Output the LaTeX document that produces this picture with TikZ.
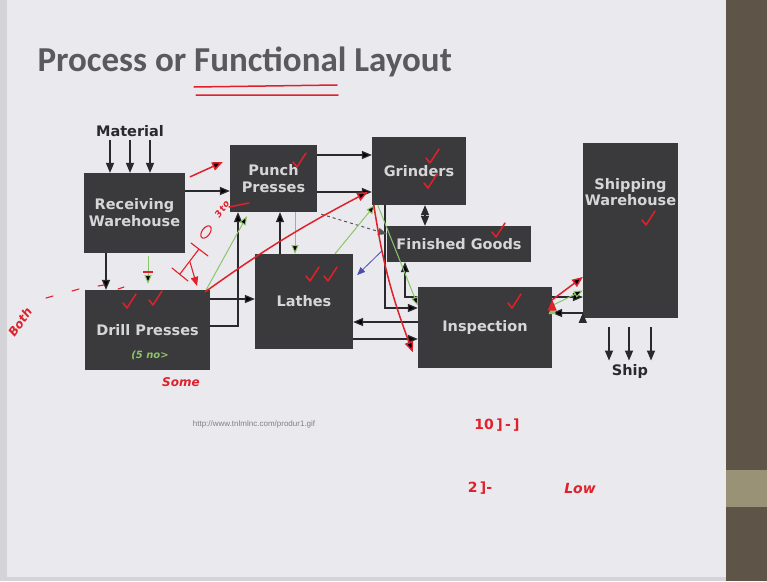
\documentclass[tikz,border=0pt]{standalone}
\usepackage{fontspec}
\setmainfont{DejaVu Sans}
\newfontfamily\titlefont{Carlito}
\newfontfamily\urlfont{Liberation Sans}
\usetikzlibrary{positioning, arrows}
\definecolor{slidebg}{HTML}{EAEAEE}
\definecolor{edgegray}{HTML}{D4D4D8}
\definecolor{wallbrown}{HTML}{5E5447}
\definecolor{wallband}{HTML}{9A9277}
\definecolor{boxgray}{HTML}{3A3A3C}
\definecolor{boxtext}{HTML}{D6D6D8}
\definecolor{linegray}{HTML}{2A2A2E}
\definecolor{titlegray}{HTML}{5A5A5C}
\definecolor{inkred}{HTML}{E0202A}
\definecolor{inkgreen}{HTML}{8CC468}
\tikzset{
    x=1pt, y=-1pt, % pixel grid of the slide, y runs down
    dept/.style={rectangle, fill=boxgray, text=boxtext, align=center,
        inner sep=0pt, font=\bfseries\fontsize{14.5}{17}\selectfont},
    flow/.style={-triangle 45, draw=linegray, line width=1.3pt},
    elbow/.style={to path={-| (\tikztotarget)}},
    elbowv/.style={to path={|- (\tikztotarget)}},
    ink/.style={draw=inkred, line width=1.5pt, line cap=round, line join=round},
    greenink/.style={draw=inkgreen, line width=1pt},
    hand/.style={text=inkred, font=\itshape\bfseries\fontsize{12}{13}\selectfont, inner sep=1pt},
}

\begin{document}
\begin{tikzpicture}
            \useasboundingbox (0,0) rectangle (767,581);
            \fill[edgegray] (0,0) rectangle (767,581);
            \fill[slidebg] (7,0) rectangle (726,577);
            \fill[wallbrown] (726,0) rectangle (767,581);
            \fill[wallband] (726,470) rectangle (767,507);

            \node[anchor=west, text=titlegray, font=\titlefont\bfseries\fontsize{35}{38}\selectfont] (TITLE) at (34,62) {Process or Functional Layout};

            \node[dept, minimum width=101, minimum height=80] (RECV) at (134.5,213) {Receiving\\Warehouse};
            \node[dept, minimum width=87, minimum height=67] (PUNCH) at (273.5,178.5) {Punch\\Presses};
            \node[dept, minimum width=94, minimum height=68] (GRIND) at (419,171) {Grinders};
            \node[dept, minimum width=144, minimum height=36] (FINISH) at (459,244) {Finished Goods};
            \node[dept, minimum width=98, minimum height=95] (LATHES) at (304,301.5) {Lathes};
            \node[dept, minimum width=125, minimum height=80] (DRILL) at (147.5,330) {Drill Presses};
            \node[dept, minimum width=134, minimum height=81] (INSP) at (485,327.5) {Inspection};
            \node[dept, minimum width=95, minimum height=175,
                label={[anchor=north, yshift=-32pt, text=boxtext, font=\bfseries\fontsize{14.5}{16}\selectfont, align=center]north:Shipping\\Warehouse}] (SHIPW) at (630.5,230.5) {};

            \node[text=linegray, font=\bfseries\fontsize{14.5}{16}\selectfont] (MAT) at (130,131) {Material};
            \node[text=linegray, font=\bfseries\fontsize{14.5}{16}\selectfont] (SHIPTXT) at (630,371) {Ship};
            \node[text=gray, font=\urlfont\fontsize{8}{9}\selectfont] (URL) at (254,424) {http://www.tnlmlnc.com/produr1.gif};

            \foreach \dx in {-20,0,20}
                \draw[flow] ([xshift=\dx pt]MAT.south) -- ([xshift=\dx pt]MAT.south |- RECV.north);
            \foreach \dx in {-21.5,-1.5,20.5}
                \draw[flow] ([xshift=\dx pt, yshift=-9pt]SHIPW.south) -- ([xshift=\dx pt]SHIPW.south |- SHIPTXT.north);

            \path[flow]
            ([yshift=22pt]RECV.east) edge ([yshift=-12.5pt]PUNCH.west)
            ([xshift=-28.5pt]RECV.south) edge ([xshift=-28.5pt]RECV.south |- DRILL.north)
            ([yshift=23.5pt]PUNCH.east) edge ([yshift=23.5pt]PUNCH.east -| GRIND.west)
            ([yshift=-13.5pt]PUNCH.east) edge ([yshift=-13.5pt]PUNCH.east -| GRIND.west)
            ([xshift=-24pt]LATHES.north) edge ([xshift=-24pt]LATHES.north |- PUNCH.south)
            ([yshift=4pt]DRILL.east) edge[elbow] ([xshift=-35.5pt]PUNCH.south)
            ([yshift=31pt]DRILL.east) edge ([yshift=31pt]DRILL.east -| LATHES.west)
            ([yshift=30.5pt]INSP.west) edge[elbow] ([xshift=-54pt]FINISH.south)
            ([xshift=-34pt]GRIND.south) edge[elbowv] ([yshift=19.5pt]INSP.west)
            ([yshift=5.5pt]INSP.west) edge ([yshift=5.5pt]INSP.west -| LATHES.east)
            ([yshift=-37.5pt]LATHES.east) edge ([yshift=-37.5pt]LATHES.east -| INSP.west)
            ([yshift=30.5pt]INSP.east) edge ([yshift=30.5pt]INSP.east -| SHIPW.west)
            ([yshift=-82.5pt]SHIPW.west) edge ([yshift=-82.5pt]SHIPW.west -| INSP.east);

            \draw[triangle 45-triangle 45, draw=linegray, line width=1.3pt] ([xshift=6pt]GRIND.south) -- ([xshift=6pt]GRIND.south |- FINISH.north);
            \draw[-triangle 45, dashed, draw=linegray!80, line width=1pt] ([xshift=4pt, yshift=-2pt]PUNCH.south east) -- ([yshift=10pt]FINISH.west);
            \draw[-triangle 45, draw=blue!40!gray, line width=0.8pt] ([xshift=-5pt, yshift=-7pt]FINISH.west) -- ([xshift=4pt, yshift=26.5pt]LATHES.east);

            % green marks
            \path[greenink, -triangle 45]
            ([xshift=21.5pt]PUNCH.south) edge ([xshift=21.5pt]PUNCH.south |- LATHES.north)
            ([xshift=-4pt]DRILL.north east) edge ([xshift=17pt, yshift=-4pt]PUNCH.south west)
            ([xshift=31pt]LATHES.north) edge ([xshift=3pt]GRIND.south west)
            ([xshift=13.5pt, yshift=-3pt]RECV.south) edge ([xshift=13.5pt, yshift=6pt]RECV.south |- DRILL.north)
            ([xshift=6pt]GRIND.south west) edge ([yshift=22pt]INSP.west)
            ([yshift=22pt]INSP.east) edge ([yshift=-60pt]SHIPW.west);
            \draw[inkred, line width=1.5pt] (143,272) -- (153,272);

            % red marks
            \draw[ink] (194,87) -- (337,85) (196,95) -- (338,95);
            \path[ink, -triangle 45]
            ([xshift=5pt, yshift=-4pt]RECV.north east) edge ([xshift=-7pt, yshift=16.5pt]PUNCH.west)
            ([xshift=-5pt, yshift=-2pt]DRILL.north east) edge[bend left=4] ([xshift=-4pt, yshift=-21pt]GRIND.west)
            ([xshift=2pt]GRIND.south west) edge[bend right=6] ([xshift=-5pt, yshift=16pt]INSP.south west)
            ([yshift=-13pt]INSP.north east) edge ([yshift=-46.5pt]SHIPW.west);
            \foreach \x/\y in {299/162, 432/158, 430/183, 498/232, 514/303, 312/276, 330/276, 129/303, 155/300, 648/220}
                \draw[ink] (\x-6,\y) -- (\x-2,\y+5) -- (\x+7,\y-9);
            \draw[ink, line width=1.1pt] (172,268) -- (188,281) (180,274) -- (199,249) (191,243) -- (208,256);
            \draw[ink, line width=1.1pt, -triangle 45] (190,262) -- (197,286);
            \draw[ink, line width=1.1pt, rotate around={55:(206,232)}] (206,232) ellipse (7 and 4);
            \draw[ink] (229,207) -- (249,203);
            \node[hand, rotate=55, font=\itshape\bfseries\fontsize{9}{10}\selectfont] (THREE) at (222,209) {3\,to};
            \draw[ink, line width=1.1pt] (46,298) -- (53,296) (72,291) -- (79,289) (98,286) -- (104,285) (118,289) -- (124,287);
            \node[hand, rotate=55] (BOTH) at (20,322) {Both};
            \node[hand] (SOME) at (181,382) {Some};
            \node[hand, font=\bfseries\fontsize{14}{15}\selectfont] (TEN) at (497,425) {10\,]\,-\,]};
            \node[hand, font=\bfseries\fontsize{14}{15}\selectfont] (TWO) at (480,488) {2\,]-};
            \node[hand, font=\itshape\bfseries\fontsize{14}{15}\selectfont] (LOW) at (580,488) {Low};
            \node[text=inkgreen, font=\itshape\bfseries\fontsize{10}{11}\selectfont] (FIVE) at (150,355) {(5 no>};
        \end{tikzpicture}
\end{document}
